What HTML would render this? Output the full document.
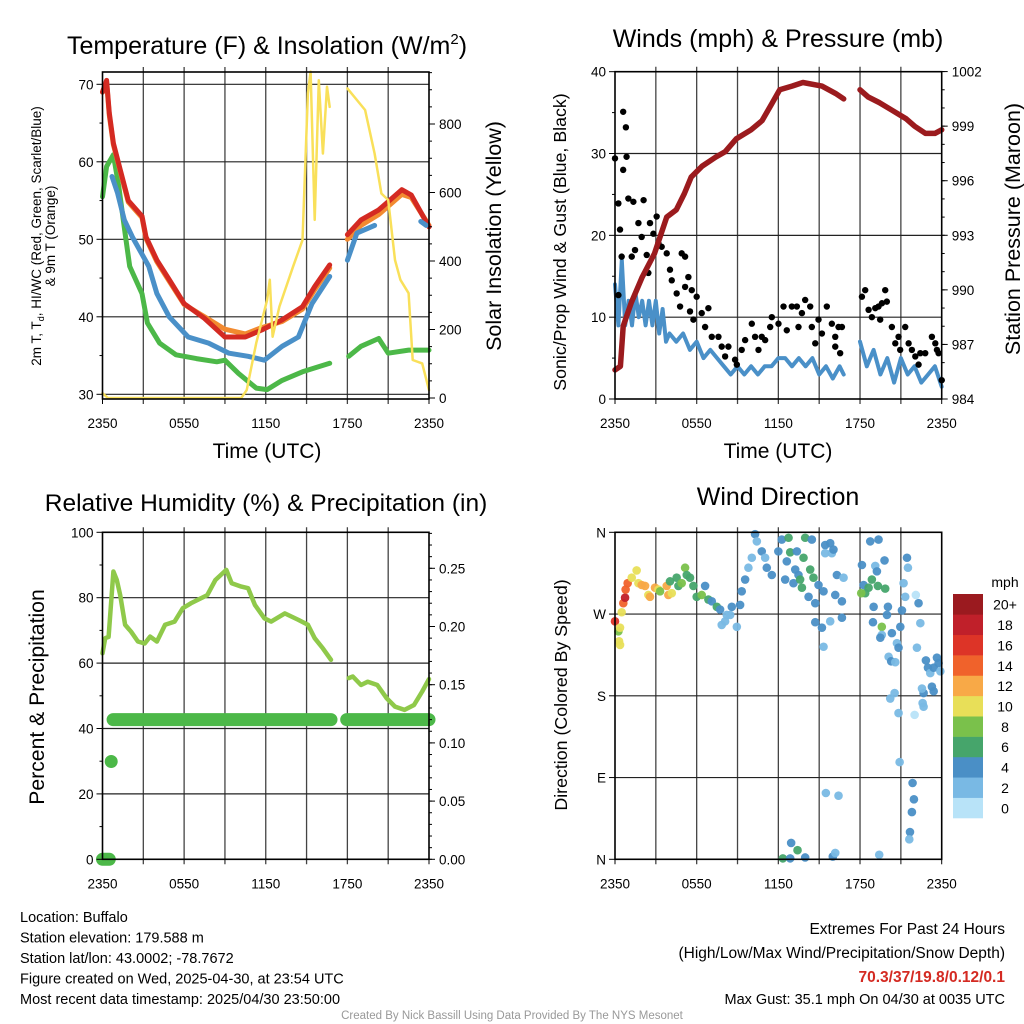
<!DOCTYPE html>
<html><head><meta charset="utf-8"><style>
html,body{margin:0;padding:0;background:#fff;}
svg{display:block;font-family:"Liberation Sans",Arial,sans-serif;}
</style></head><body>
<svg id="chart" width="1024" height="1024" viewBox="0 0 1024 1024" xmlns="http://www.w3.org/2000/svg">
<rect x="0" y="0" width="1024" height="1024" fill="#fff"/>
</svg>
<script>
// ---------- Panel 1: temperature & insolation ----------
const tempT   = [0,0.3,0.5,0.8,1.3,1.9,2.9,3.2,4,4.9,6,7.5,9,10.5,11.7,13.2,14.7,15.6,16.7,null,18,19,20.3,22,22.7,24];
const redTemp = [69,70.5,66.3,62.4,59,55,53,50.3,47.3,44.8,41.7,39.8,37.4,37.4,38.3,39.6,41.3,43.9,46.7,null,50.6,52.5,53.8,56.4,55.7,51.6];
const orangeTemp = [69,70.3,66,62.2,58.8,54.8,52.8,50.1,47.1,44.6,41.6,40,38.4,37.8,38.6,39.4,41,43.5,46.3,null,50,51.8,53.2,55.8,55.4,51.8];
const blueT   = [0.7,1.1,1.6,2.2,3.4,4,4.9,6.3,7.8,9.3,10.7,11.9,13.2,14.4,15.4,16.7,null,18,18.7,20,null,23.4,23.8];
const blueTemp= [58.1,56,52.5,50.3,46.5,43,40,37.4,36.6,35.3,34.9,34.4,36.2,37.4,41.7,45.2,null,47.3,50.8,51.8,null,52.3,51.8];
const dewT    = [0,0.3,0.8,1.2,1.7,2,2.9,3.3,4.2,5.4,6.9,8.4,9,10,11.3,12.1,13.2,14.7,16.7,null,18.1,19,20.3,21,22.5,24];
const dewTemp = [55.5,59.4,60.9,56.8,50.3,46.5,43,39.2,36.6,35.1,34.6,34.2,34.4,32.7,30.8,30.6,31.8,32.9,34,null,34.9,36.2,37.2,35.3,35.7,35.7];
const solarT  = [0,0.4,10.2,10.6,11.3,12.1,12.3,12.5,13,14,14.7,15.1,15.3,15.6,15.9,16.2,16.5,16.7,null,18,19.3,20,20.5,21,21.5,21.9,22.5,22.8,23.5,24];
const solarW  = [14,0,0,23,160,286,345,179,267,383,461,890,953,520,928,714,909,850,null,904,841,714,597,578,403,345,306,111,101,23];
const tempTicks = [30,40,50,60,70];
const solarTicks = [0,200,400,600,800];
const timeLabels = ["2350","0550","1150","1750","2350"];
const timeLabelHours = [0,6,12,18,24];

// ---------- Panel 2: winds & pressure ----------
const presT = [0,0.4,0.6,1.2,2,2.9,3.8,4.5,5.1,5.6,6.4,7.4,8.1,8.9,10,10.8,11.5,12.1,13,13.8,15.2,16.2,16.8,null,18,18.6,19.4,20.3,21.4,22,22.8,23.5,24];
const presV = [985.6,985.8,988,989.3,990.7,992,994,994.4,995.3,996.2,996.8,997.3,997.6,998.3,998.8,999.3,1000.2,1001,1001.2,1001.4,1001.2,1000.8,1000.5,null,1001,1000.6,1000.3,999.9,999.4,999,998.6,998.6,998.8];
const windT = [0,0.25,0.5,0.75,1,1.25,1.5,1.75,2,2.25,2.5,2.75,3,3.25,3.5,3.75,4,4.5,5,5.5,6,6.5,7,7.5,8,8.5,9,9.5,10,10.5,11,11.5,12,12.5,13,13.5,14,14.5,15,15.5,16,16.5,16.8,null,18,18.5,19,19.5,20,20.5,21,21.5,22,22.5,23,23.5,24];
const windV = [14,9,17,9,12,9,13,10,12,9,12,9,12,8,11,7,8,7,8,6,7,5,6,5,4,3,4,3,4,3,4,4,5,5,4,5,4,5,3,4,2.5,4,3,null,7,4,6,3,5,2,5,3,4,2,3,4,1.5];
const gustT = [0,0.6,0.8,0.85,0.6,0.25,0.37,0.49,0.25,0.98,1.35,2.1,1.72,1.96,1.47,1.23,2.33,2.57,3.06,2.82,3.19,2.45,3.43,3.8,4.04,4.17,4.53,4.9,5.15,5.39,4.78,5.15,5.64,6.0,5.51,5.76,6.37,6.86,6.62,7.11,7.6,7.84,8.33,8.09,8.82,8.95,9.31,9.56,10.05,10.29,10.54,10.78,11.03,11.4,11.52,12.01,12.38,12.62,12.99,13.36,13.48,13.73,13.97,14.34,14.46,14.95,14.71,15.2,15.56,15.93,16.18,16.42,16.67,16.54,16.18,18.14,18.38,18.63,18.87,19.12,19.36,19.61,19.85,19.97,19.48,20.34,20.83,20.95,20.59,21.32,21.57,21.81,22.06,22.43,22.79,23.28,23.53,23.65,23.77,22.3,24];
const gustV = [29.4,35.1,33.2,29.6,28,23.9,20.7,17.4,12.7,24.5,24.1,24.3,21.5,19.8,18.2,17.4,17.6,21.5,22.3,20.2,19,15.4,18.6,17.8,15.8,14.5,12.9,17.8,17.4,14.9,11.3,13.7,13.3,12.5,10.7,9.7,10.5,11.1,8.8,7.6,7.6,6.4,6.4,5.2,4.8,4.2,6,7.2,9.2,7.6,6,7.6,7.2,8.8,10,9.2,11.3,8.4,11.3,11.3,8.8,10.5,12.1,11.3,8.8,9.7,6.8,8,11.3,9.2,7.6,8.8,8.8,5.6,6.4,12.5,13.3,10.9,10,11.1,11.3,11.7,13.3,11.9,9.7,8.8,7.6,6,6.8,8.8,6.8,6,5.2,5.6,5.6,7.6,6.8,6,5.6,4.2,2.3];
const windTicks = [0,10,20,30,40];
const presTicks = [984,987,990,993,996,999,1002];

// ---------- Panel 3: RH & precipitation ----------
const rhT = [0,0.2,0.45,0.8,1.05,1.3,1.66,2.1,2.6,3.1,3.5,4,4.6,5.3,5.9,6.5,7.7,8.3,9.1,9.5,10.2,10.7,11.2,11.9,12.4,13.4,14.4,15.1,15.6,16.2,16.8,null,18.1,18.4,19,19.5,20.2,20.9,21.5,22.2,22.9,23.5,24];
const rhV = [63,67.6,68,88,85.4,80.8,71.7,69.6,66.6,66,68.1,66.6,71.7,72.7,76.8,78.3,80.8,85.4,88.5,84.4,83.4,82.9,77.8,73.7,72.7,75.2,73.2,71.7,67.6,64.5,61,null,55.4,55.9,53.3,54.3,53.3,49.2,46.7,45.7,47.2,51.3,55.1];
const precipT = [0,0.5,null,0.64,null,0.78,16.8,null,17.95,24];
const precipV = [0,0,null,0.084,null,0.12,0.12,null,0.12,0.12];
const rhTicks = [0,20,40,60,80,100];
const precipTicks = [0,0.05,0.10,0.15,0.20,0.25];
const precipLabels = ["0.00","0.05","0.10","0.15","0.20","0.25"];

// ---------- Panel 4: wind direction ----------
const dirT = [0,0.25,0.37,0.3,0.37,0.49,0.61,0.74,0.78,0.93,1.23,1.59,1.72,1.96,2.21,2.45,2.57,2.94,3.19,3.31,3.8,3.92,4.17,4.04,4.53,4.66,4.9,5.15,5.27,5.51,5.76,6.0,6.37,6.62,6.86,7.11,7.48,7.72,7.84,8.09,8.21,8.58,8.46,8.95,9.19,9.31,9.56,9.8,10.05,10.29,10.42,10.78,11.03,11.15,11.52,12.0,12.25,12.75,12.87,13.36,12.62,12.5,13.11,13.24,13.48,13.6,13.73,13.97,13.85,14.22,14.34,14.46,14.58,14.95,14.71,15.32,15.44,15.81,15.93,15.44,16.05,16.18,16.3,16.67,16.79,16.67,15.81,14.71,15.2,15.32,18.14,18.26,18.38,18.09,18.63,18.75,18.87,19.0,19.12,19.24,19.36,19.31,19.8,19.85,20.05,19.98,18.95,19.6,19.6,19.49,20.34,20.1,20.29,20.59,20.71,20.83,20.22,20.54,20.83,21.2,21.32,21.45,21.52,21.08,20.96,22.18,22.1,22.3,22.43,22.84,22.99,23.16,23.41,23.65,23.77,23.9,23.28,23.41,22.67,22.55,22.67,22.6,22.01,20.91,21.86,21.96,21.81,21.67,21.62,12.33,12.94,13.41,12.87,13.97,16.0,16.18,15.49,16.42,19.41];
const dirDeg = [262,251,255,240,236,272,282,288,297,304,310,318,304,302,301,291,289,299,297,295,301,291,293,306,310,301,304,321,313,310,301,289,291,301,286,284,278,275,258,262,269,278,269,256,280,295,308,321,332,358,350,339,332,321,313,339,352,354,338,339,328,308,304,319,313,308,299,354,332,289,319,352,310,302,282,295,346,348,337,337,341,291,313,284,310,266,262,261,255,234,324,302,293,293,299,350,308,278,323,317,352,301,329,298,278,269,261,256,247,244,249,223,218,217,238,233,177,183,161,304,289,332,321,274,256,233,291,282,260,219,211,205,211,222,216,207,190,185,183,188,168,172,159,107,84,66,52,30,22,1,18,10,1,2,3,7,73,70,5];
const dirSpd = [16,8,10,10,10,10,14,18,14,14,10,10,10,12,12,10,12,12,10,8,12,12,10,6,6,6,8,8,6,6,6,6,8,4,6,4,6,4,2,2,2,4,2,2,4,4,4,2,2,4,2,4,2,4,4,4,4,6,6,4,4,4,4,4,4,6,6,6,6,4,6,4,6,4,4,4,4,4,2,2,4,4,4,4,2,4,2,4,4,2,4,4,6,8,6,4,6,4,2,4,4,6,4,6,4,4,4,8,2,4,4,2,4,2,2,4,2,2,2,2,2,4,2,4,4,2,0,4,2,4,4,2,4,4,4,2,4,4,4,2,2,2,0,2,4,4,4,4,2,6,4,6,4,4,4,2,2,2,2];
const dirLabels = ["N","E","S","W","N"];
const dirTicks = [0,90,180,270,360];
const cbLabels = ["0","2","4","6","8","10","12","14","16","18","20+"];
const cbColors = ["#b8e3f8","#79b9e4","#4a8fc6","#46a56b","#7ac14b","#e8df58","#f8a947","#f0622b","#dd3427","#c0202a","#9b1a1f"];

// ---------- helpers ----------
const NS = 'http://www.w3.org/2000/svg';
const svg = document.getElementById('chart');
function mk(tag, attrs, parent) {
  const e = document.createElementNS(NS, tag);
  for (const k in attrs) e.setAttribute(k, attrs[k]);
  (parent || svg).appendChild(e);
  return e;
}
function txt(s, attrs, parent) { const e = mk('text', attrs, parent); e.textContent = s; return e; }
function pathD(ts, vs, fx, fy) {
  let d = '', seg = [];
  const flush = () => {
    if (seg.length === 1) seg.push(seg[0]);
    seg.forEach((pt, i) => { d += (i ? 'L' : 'M') + pt[0].toFixed(1) + ' ' + pt[1].toFixed(1) + ' '; });
    seg = [];
  };
  for (let i = 0; i < ts.length; i++) {
    if (ts[i] === null || vs[i] === null) { flush(); continue; }
    seg.push([fx(ts[i]), fy(vs[i])]);
  }
  flush();
  return d;
}
function colorFor(s) { return cbColors[Math.min(10, Math.round(s / 2))]; }

const P = [
  {x0:102.5, x1:429, y0:72, y1:399},
  {x0:615, x1:941.7, y0:71.7, y1:399},
  {x0:102.5, x1:429, y0:532.3, y1:859.3},
  {x0:615, x1:941.7, y0:532.3, y1:859.3}
];
function sx(p, h) { return p.x0 + h * (p.x1 - p.x0) / 24; }

function frame(p, idx, hLines) {
  const g = mk('g', {});
  
  
  for (let h = 3; h < 24; h += 3) {
    const x = sx(p, h);
    mk('line', {x1:x, x2:x, y1:p.y0 - 5, y2:p.y1 + 5, stroke:'#444', 'stroke-width':1.3}, g);
  }
  mk('line', {x1:p.x0, x2:p.x0, y1:p.y1, y2:p.y1 + 5, stroke:'#000', 'stroke-width':1}, g);
  mk('line', {x1:p.x1, x2:p.x1, y1:p.y1, y2:p.y1 + 5, stroke:'#000', 'stroke-width':1}, g);
  hLines.forEach(y => mk('line', {x1:p.x0, x2:p.x1, y1:y, y2:y, stroke:'#222', 'stroke-width':1.2}, g));
  timeLabelHours.forEach((h, i) => {
    const t = txt(timeLabels[i], {x:sx(p, h), y:p.y1 + 29, 'font-size':13.5, 'text-anchor':'middle'}, g);
    
    
  });
}
function border(p, idx) {
  const r = mk('rect', {x:p.x0, y:p.y0, width:p.x1 - p.x0, height:p.y1 - p.y0, fill:'none', stroke:'#000', 'stroke-width':1.6});
  
  
}
function ticksLeft(p, vals, fy, labels, minorVals) {
  vals.forEach((v, i) => {
    const y = fy(v);
    mk('line', {x1:p.x0 - 6, x2:p.x0, y1:y, y2:y, stroke:'#000', 'stroke-width':1});
    const t = txt(labels[i], {x:p.x0 - 9, y:y + 5, 'font-size':13.5, 'text-anchor':'end'});
    
    
  });
  minorVals.forEach(v => { const y = fy(v); mk('line', {x1:p.x0 - 3, x2:p.x0, y1:y, y2:y, stroke:'#000', 'stroke-width':1}); });
}
function ticksRight(p, vals, fy, labels, minorVals) {
  vals.forEach((v, i) => {
    const y = fy(v);
    mk('line', {x1:p.x1, x2:p.x1 + 6, y1:y, y2:y, stroke:'#000', 'stroke-width':1});
    const t = txt(labels[i], {x:p.x1 + 10, y:y + 5, 'font-size':13.5, 'text-anchor':'start'});
    
    
  });
  minorVals.forEach(v => { const y = fy(v); mk('line', {x1:p.x1, x2:p.x1 + 3, y1:y, y2:y, stroke:'#000', 'stroke-width':1}); });
}
function series(d, color, w, name) {
  const e = mk('path', {d:d, fill:'none', stroke:color, 'stroke-width':w, 'stroke-linejoin':'round', 'stroke-linecap':'round'});
  
  
  return e;
}
function range(a, b, s) { const r = []; for (let v = a; v <= b + 1e-9; v += s) r.push(+v.toFixed(4)); return r; }

// ===== Panel 1 =====
{
  const p = P[0];
  const fyT = v => 394.3 - (v - 30) * 7.75;
  const fyS = w => 398 - w * 0.3425;
  const fx = h => sx(p, h);
  frame(p, 0, tempTicks.filter(v => v > 30).map(fyT).concat([fyT(30)]));
  series(pathD(dewT, dewTemp, fx, fyT), '#4cb848', 5, 'dewpoint-line');
  series(pathD(tempT, orangeTemp, fx, fyT), '#f28a30', 5, 'temp-9m-line');
  series(pathD(tempT, redTemp, fx, fyT), '#d42a22', 5, 'temp-2m-line');
  series(pathD(blueT, blueTemp, fx, fyT), '#4a90c8', 5, 'heat-index-windchill-line');
  series(pathD(solarT, solarW, fx, fyS), '#f9e05a', 2.5, 'solar-insolation-line');
  border(p, 0);
  ticksLeft(p, tempTicks, fyT, tempTicks.map(String), range(35, 65, 10));
  ticksRight(p, solarTicks, fyS, solarTicks.map(String), range(50, 950, 50));
  const t = txt('', {x:267, y:54, 'font-size':25, 'text-anchor':'middle'});
  
  
  t.innerHTML = 'Temperature (F) &amp; Insolation (W/m<tspan dy="-10" font-size="15">2</tspan><tspan dy="10">)</tspan>';
  const xl = txt('Time (UTC)', {x:267, y:458, 'font-size':21, 'text-anchor':'middle'});
  
  
  const yl = txt('', {transform:'translate(41,236) rotate(-90)', 'font-size':13.5, 'text-anchor':'middle'});
  
  
  yl.innerHTML = '2m T, T<tspan dy="3" font-size="9">d</tspan><tspan dy="-3">, HI/WC (Red, Green, Scarlet/Blue)</tspan>';
  const yl2 = txt('& 9m T (Orange)', {transform:'translate(55,236) rotate(-90)', 'font-size':13.5, 'text-anchor':'middle'});
  
  
  const yr = txt('Solar Insolation (Yellow)', {transform:'translate(501,236) rotate(-90)', 'font-size':21.5, 'text-anchor':'middle'});
  
  
}

// ===== Panel 2 =====
{
  const p = P[1];
  const fyW = v => 399 - v * 8.183;
  const fyP = v => 399 - (v - 984) * 18.19;
  const fx = h => sx(p, h);
  frame(p, 1, windTicks.filter(v => v > 0 && v < 40).map(fyW).concat([fyW(40)]));
  series(pathD(windT, windV, fx, fyW), '#4a90c8', 4, 'sustained-wind-line');
  const gg = mk('g', {fill:'#000'});
  
  
  gustT.forEach((h, i) => {
    const c = mk('circle', {cx:fx(h), cy:fyW(gustV[i]), r:3.2}, gg);
    
    
  });
  series(pathD(presT, presV, fx, fyP), '#9b1b1e', 5.5, 'pressure-line');
  border(p, 1);
  ticksLeft(p, windTicks, fyW, windTicks.map(String), range(5, 35, 10));
  ticksRight(p, presTicks, fyP, presTicks.map(String), range(984, 1002, 1));
  const t = txt('Winds (mph) & Pressure (mb)', {x:778, y:47, 'font-size':25, 'text-anchor':'middle'});
  
  
  const xl = txt('Time (UTC)', {x:778, y:458, 'font-size':21, 'text-anchor':'middle'});
  
  
  const yl = txt('Sonic/Prop Wind & Gust (Blue, Black)', {transform:'translate(566,242) rotate(-90)', 'font-size':17.8, 'text-anchor':'middle'});
  
  
  const yr = txt('Station Pressure (Maroon)', {transform:'translate(1020,229) rotate(-90)', 'font-size':21.5, 'text-anchor':'middle'});
  
  
}

// ===== Panel 3 =====
{
  const p = P[2];
  const fyR = v => 859.3 - v * 3.27;
  const fyPr = v => 859.3 - v * 1164;
  const fx = h => sx(p, h);
  frame(p, 2, rhTicks.filter(v => v > 0).map(fyR));
  series(pathD(rhT, rhV, fx, fyR), '#8fc94a', 4.5, 'relative-humidity-line');
  series(pathD(precipT, precipV, fx, fyPr), '#4cb848', 13, 'precipitation-line');
  border(p, 2);
  ticksLeft(p, rhTicks, fyR, rhTicks.map(String), range(10, 90, 20));
  ticksRight(p, precipTicks, fyPr, precipLabels, range(0, 0.28, 0.01));
  const t = txt('Relative Humidity (%) & Precipitation (in)', {x:266, y:511, 'font-size':24.5, 'text-anchor':'middle'});
  
  
  const yl = txt('Percent & Precipitation', {transform:'translate(44,697) rotate(-90)', 'font-size':21.2, 'text-anchor':'middle'});
  
  
}

// ===== Panel 4 =====
{
  const p = P[3];
  const fyD = d => 859.3 - d * 0.9083;
  const fx = h => sx(p, h);
  frame(p, 3, dirTicks.filter(v => v > 0 && v < 360).map(fyD).concat([fyD(360)]));
  const g = mk('g', {});
  
  
  dirT.forEach((h, i) => {
    const c = mk('circle', {cx:fx(h), cy:fyD(dirDeg[i]), r:4.3, fill:colorFor(dirSpd[i]), 'fill-opacity':0.95}, g);
    
    
  });
  border(p, 3);
  ticksLeft(p, dirTicks, fyD, dirLabels, []);
  const t = txt('Wind Direction', {x:778, y:505, 'font-size':25, 'text-anchor':'middle'});
  
  
  const yl = txt('Direction (Colored By Speed)', {transform:'translate(567,695) rotate(-90)', 'font-size':17.8, 'text-anchor':'middle'});
  
  
  const cb = mk('g', {});
  
  
  const bh = (818 - 594) / cbColors.length;
  cbColors.forEach((c, i) => {
    const y = 818 - (i + 1) * bh;
    const r = mk('rect', {x:953, y:y, width:30, height:bh + 0.3, fill:c}, cb);
    
    
    const l = txt(cbLabels[i], {x:1005, y:y + bh / 2 + 5.5, 'font-size':14, 'text-anchor':'middle'}, cb);
    
    
  });
  const u = txt('mph', {x:1005, y:587, 'font-size':14, 'text-anchor':'middle'}, cb);
  
  
}

// ===== Footer text =====
{
  const left = ['Location: Buffalo','Station elevation: 179.588 m','Station lat/lon: 43.0002; -78.7672','Figure created on Wed, 2025-04-30, at 23:54 UTC','Most recent data timestamp: 2025/04/30 23:50:00'];
  left.forEach((s, i) => {
    const t = txt(s, {x:20, y:922 + i * 20.5, 'font-size':14.5});
    
    
  });
  const r1 = txt('Extremes For Past 24 Hours', {x:1005, y:934, 'font-size':15.5, 'text-anchor':'end'});
  
  
  const r2 = txt('(High/Low/Max Wind/Precipitation/Snow Depth)', {x:1005, y:958, 'font-size':15.5, 'text-anchor':'end'});
  
  
  const r3 = txt('70.3/37/19.8/0.12/0.1', {x:1005, y:982, 'font-size':15.5, 'text-anchor':'end', fill:'#d42a22', 'font-weight':'bold'});
  
  
  const r4 = txt('Max Gust: 35.1 mph On 04/30 at 0035 UTC', {x:1005, y:1004, 'font-size':14.5, 'text-anchor':'end'});
  
  
  const f = txt('Created By Nick Bassill Using Data Provided By The NYS Mesonet', {x:512, y:1019, 'font-size':11.5, 'text-anchor':'middle', fill:'#999'});
  
  
}
</script>
</body></html>
